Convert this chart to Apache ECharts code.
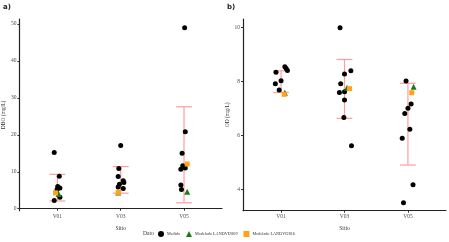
<!DOCTYPE html>
<html><head><meta charset="utf-8">
<script src="https://cdn.jsdelivr.net/npm/echarts@6/dist/echarts.min.js"></script>
<style>html,body{margin:0;padding:0;background:#fff}#c{width:449px;height:242px}</style>
</head><body><div id="c"></div>
<script>
const categories = ['V01', 'V03', 'V05'];
// DBO (mg/L) measured values per site and their jitter offsets (category units)
const dboMedido = [[15.2, 8.8, 6.0, 5.6, 5.2, 3.1, 2.2], [17.1, 10.9, 8.7, 7.6, 7.1, 6.6, 5.9, 5.5], [49.0, 20.8, 15.0, 11.6, 11.0, 10.7, 6.4, 5.2]];
const dboJitter = [[-0.05, 0.03, 0.005, 0.04, -0.005, 0.04, -0.05], [0, -0.03, -0.04, 0.04, 0.05, -0.02, -0.04, 0.04], [0.01, 0.02, -0.03, -0.02, 0.02, -0.05, -0.05, -0.04]];
const dbo2809 = [4.0, 4.4, 4.6];
const dbo2809Jitter = [0.02, -0.04, 0.05];
const dbo2816 = [4.3, 4.4, 12.1];
const dbo2816Jitter = [-0.03, -0.04, 0.05];
const dboLow = [2.1, 4.2, 1.6];
const dboHigh = [9.3, 11.4, 27.6];
// OD (mg/L)
const odMedido = [[8.54, 8.48, 8.40, 8.34, 8.02, 7.91, 7.68], [9.99, 8.39, 8.27, 7.91, 7.62, 7.59, 7.31, 6.66, 5.62], [8.01, 7.16, 7.00, 6.81, 6.23, 5.89, 4.17, 3.50]];
const odJitter = [[0.06, 0.08, 0.1, -0.08, 0, -0.09, -0.03], [-0.07, 0.1, 0, -0.06, 0, -0.08, 0, -0.01, 0.11], [-0.03, 0.05, 0, -0.05, 0.03, -0.09, 0.08, -0.07]];
const od2809 = [7.58, 7.76, 7.80];
const od2809Jitter = [0.06, 0.04, 0.09];
const od2816 = [7.52, 7.73, 7.58];
const od2816Jitter = [0.05, 0.08, 0.06];
const odLow = [7.59, 6.63, 4.90];
const odHigh = [8.39, 8.81, 7.93];
const dboTicks = [0, 10, 20, 30, 40, 50];
const odTicks = [4, 6, 8, 10];

const FONT = 'Liberation Serif';
const chart = echarts.init(document.getElementById('c'), null, {renderer: 'canvas'});

function pts(vals, jit) {
  const out = [];
  vals.forEach((arr, i) => arr.forEach((v, j) => out.push([i + 1 + jit[i][j], v])));
  return out;
}
function pts1(vals, jit) { return vals.map((v, i) => [i + 1 + jit[i], v]); }
function errData(lo, hi) { return lo.map((l, i) => [i + 1, l, hi[i]]); }
function renderErr(params, api) {
  const x = api.value(0);
  const pLo = api.coord([x, api.value(1)]);
  const pHi = api.coord([x, api.value(2)]);
  const half = api.size([0.125, 0])[0];
  const st = {stroke: '#ff9d9d', lineWidth: 1.2};
  return {type: 'group', children: [
    {type: 'line', shape: {x1: pLo[0], y1: pLo[1], x2: pHi[0], y2: pHi[1]}, style: st},
    {type: 'line', shape: {x1: pHi[0] - half, y1: pHi[1], x2: pHi[0] + half, y2: pHi[1]}, style: st},
    {type: 'line', shape: {x1: pLo[0] - half, y1: pLo[1], x2: pLo[0] + half, y2: pLo[1]}, style: st}
  ]};
}
function xAxis(gi) {
  return {
    type: 'value', gridIndex: gi, min: 0.4, max: 3.6,
    name: 'Sitio', nameLocation: 'middle', nameGap: 15,
    nameTextStyle: {fontFamily: FONT, fontSize: 5.5, color: '#333'},
    axisLine: {show: true, lineStyle: {color: '#222', width: 1.2}},
    axisTick: {show: true, length: 2, customValues: [1, 2, 3], lineStyle: {color: '#333'}},
    axisLabel: {customValues: [1, 2, 3], formatter: v => categories[Math.round(v) - 1], fontFamily: FONT, fontSize: 5.5, color: '#4d4d4d', margin: 3},
    splitLine: {show: false}
  };
}
function yAxis(gi, min, max, ticks, name) {
  return {
    type: 'value', gridIndex: gi, min: min, max: max,
    name: name, nameLocation: 'middle', nameGap: 11,
    nameTextStyle: {fontFamily: FONT, fontSize: 5.5, color: '#333'},
    axisLine: {show: true, lineStyle: {color: '#222', width: 1.2}},
    axisTick: {show: true, length: 2, customValues: ticks, lineStyle: {color: '#333'}},
    axisLabel: {customValues: ticks, fontFamily: FONT, fontSize: 5.5, color: '#4d4d4d', margin: 3},
    splitLine: {show: false}
  };
}
const GREEN = '#1d7a1d', ORANGE = '#ffa31a';
function panelSeries(gi, med, jit, m9, j9, m16, j16, lo, hi) {
  return [
    {type: 'custom', xAxisIndex: gi, yAxisIndex: gi, renderItem: renderErr, data: errData(lo, hi), z: 1, silent: true},
    {name: 'Medido', type: 'scatter', xAxisIndex: gi, yAxisIndex: gi, symbol: 'circle', symbolSize: 5, itemStyle: {color: '#000', opacity: 1}, data: pts(med, jit), z: 3},
    {name: 'Modelado LANDVI2809', type: 'scatter', xAxisIndex: gi, yAxisIndex: gi, symbol: 'triangle', symbolSize: 6, itemStyle: {color: GREEN, opacity: 1}, data: pts1(m9, j9), z: 4},
    {name: 'Modelado LANDVI2816', type: 'scatter', xAxisIndex: gi, yAxisIndex: gi, symbol: 'rect', symbolSize: 5, itemStyle: {color: ORANGE, opacity: 1}, data: pts1(m16, j16), z: 4}
  ];
}
chart.setOption({
  animation: false,
  backgroundColor: '#fff',
  grid: [
    {left: 19, right: 227, top: 19, bottom: 31.3},
    {left: 243, right: 3, top: 19, bottom: 31.3}
  ],
  xAxis: [xAxis(0), xAxis(1)],
  yAxis: [yAxis(0, -0.54, 51.35, dboTicks, 'DBO (mg/L)'), yAxis(1, 3.21, 10.31, odTicks, 'OD (mg/L)')],
  legend: {
    left: 158, top: 231, padding: 0, itemWidth: 6, itemHeight: 6, itemGap: 6,
    textStyle: {fontFamily: FONT, fontSize: 4.2, color: '#333', padding: [0, 0, 0, -2]},
    data: [
      {name: 'Medido', icon: 'circle'},
      {name: 'Modelado LANDVI2809', icon: 'triangle'},
      {name: 'Modelado LANDVI2816', icon: 'rect'}
    ]
  },
  graphic: [
    {type: 'text', left: 3, top: 4, style: {text: 'a)', font: 'bold 7px "DejaVu Sans"', fill: '#222'}},
    {type: 'text', left: 227, top: 4, style: {text: 'b)', font: 'bold 7px "DejaVu Sans"', fill: '#222'}},
    {type: 'text', left: 143, top: 231, style: {text: 'Dato', font: '5.5px "Liberation Serif"', fill: '#333'}}
  ],
  series: [
    ...panelSeries(0, dboMedido, dboJitter, dbo2809, dbo2809Jitter, dbo2816, dbo2816Jitter, dboLow, dboHigh),
    ...panelSeries(1, odMedido, odJitter, od2809, od2809Jitter, od2816, od2816Jitter, odLow, odHigh)
  ]
});
</script></body></html>
